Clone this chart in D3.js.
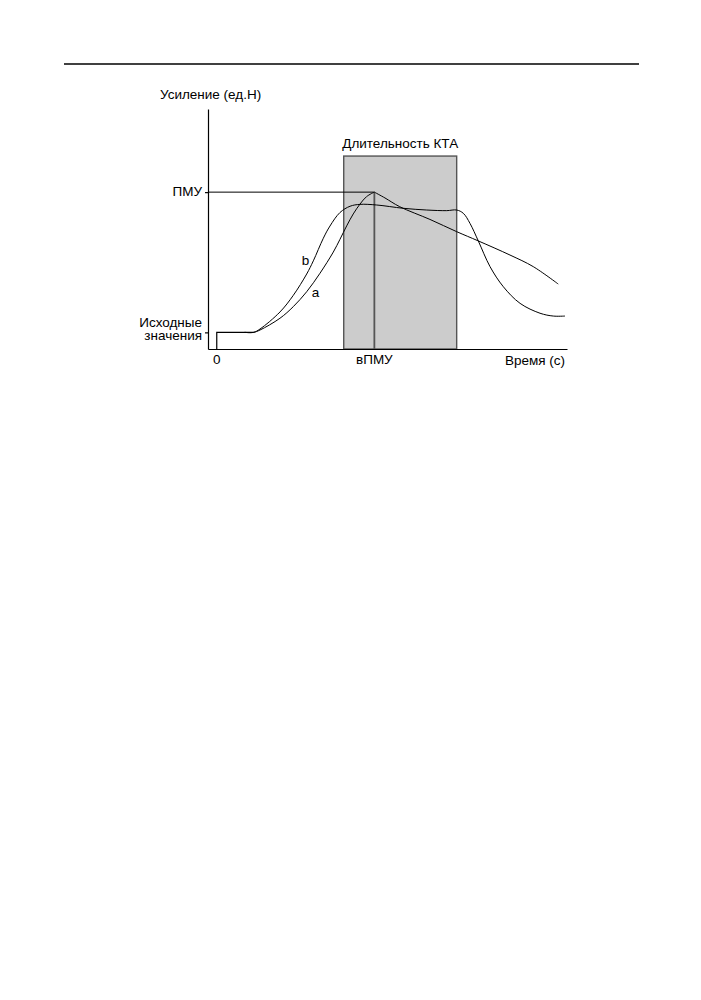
<!DOCTYPE html>
<html>
<head>
<meta charset="utf-8">
<script src="https://cdn.jsdelivr.net/npm/d3@7"></script>
<style>
  body { margin: 0; background: #fff; }
  text { font-family: "Liberation Sans", Arial, sans-serif; font-size: 13.5px; fill: #000; }
</style>
</head>
<body>
<div id="chart"></div>
<script>
// values (time in arbitrary units, gain in % of ПМУ)
const baselineGain = 10.6;
const divergeTime = 4.2;
const pmuGain = 100;
const pmuTime = 18;
const ktaSpan = [14.5, 27.4];
const ktaTop = 123;

// curve a: rises to a sharp peak at ПМУ, then falls slowly
const curveARise = [
  [3.2, 10.6], [4.2, 10.6], [4.94, 12.1], [7.22, 19.6], [8.74, 27.0], [10.27, 36.5],
  [11.79, 48.3], [13.31, 61.8], [14.07, 69.9], [14.84, 78.5], [15.59, 86.1],
  [16.36, 92.4], [17.12, 97.2], [18, 100]
];
const curveAFall = [
  [18, 100], [19.21, 96.3], [20.9, 90.7], [24.35, 82.6], [27.4, 74.8],
  [29.87, 68.9], [33.49, 59.9], [36.15, 52.5], [39.0, 41.4]
];
// curve b: rises earlier, plateau over КТА, then drops
const curveB = [
  [3.2, 10.6], [4.2, 10.6], [4.94, 12.75], [7.22, 23.6], [8.74, 34.2], [10.27, 47.8],
  [11.03, 56.2], [12.17, 70.6], [12.93, 78.4], [14.07, 87.0], [15.22, 91.0],
  [16.36, 92.2], [18.27, 91.8], [21.3, 89.7], [23.98, 88.6], [26.26, 88.2],
  [27.4, 88.6], [28.16, 86.5], [28.92, 80.1], [29.87, 68.9], [31.21, 52.5],
  [32.73, 39.7], [34.64, 29.1], [36.92, 22.8], [38.44, 21.0], [39.77, 21.0]
];
const baseStep = [[0, 0], [0, baselineGain], [divergeTime, baselineGain]];

const yLabels = [
  { v: pmuGain, lines: ["ПМУ"] },
  { v: baselineGain, lines: ["Исходные", "значения"] }
];
const xLabels = [
  { t: 0, text: "0" },
  { t: pmuTime, text: "вПМУ" }
];
const curveLabels = [
  { t: 10.13, v: 53.6, text: "b" },
  { t: 11.28, v: 33.0, text: "a" }
];

const width = 701, height = 1000;
const svg = d3.select('#chart').append('svg')
  .attr('width', width).attr('height', height);

// page rule at the top
svg.append('line')
  .attr('x1', 64).attr('x2', 639).attr('y1', 64).attr('y2', 64)
  .attr('stroke', '#000').attr('stroke-width', 1.3);

const x = d3.scaleLinear().domain([-1, 40]).range([208, 567]);
const y = d3.scaleLinear().domain([0, 153]).range([349, 109]);

// КТА box
svg.append('rect')
  .attr('x', x(ktaSpan[0])).attr('y', y(ktaTop))
  .attr('width', x(ktaSpan[1]) - x(ktaSpan[0]))
  .attr('height', y(0) - y(ktaTop))
  .attr('fill', '#cccccc').attr('stroke', '#555').attr('stroke-width', 1.4);

svg.append('text')
  .attr('x', (x(ktaSpan[0]) + x(ktaSpan[1])) / 2).attr('y', y(ktaTop) - 8)
  .attr('text-anchor', 'middle')
  .text('Длительность КТА');

// ПМУ guides
svg.append('line')
  .attr('x1', x(-1)).attr('x2', x(pmuTime))
  .attr('y1', y(pmuGain)).attr('y2', y(pmuGain))
  .attr('stroke', '#000').attr('stroke-width', 1);
svg.append('line')
  .attr('x1', x(pmuTime)).attr('x2', x(pmuTime))
  .attr('y1', y(pmuGain)).attr('y2', y(0))
  .attr('stroke', '#555').attr('stroke-width', 1.8);

// axes
svg.append('g')
  .attr('transform', `translate(${x(-1)},0)`)
  .call(d3.axisLeft(y).tickValues([baselineGain, pmuGain]).tickSize(3).tickSizeOuter(0).tickFormat(''));
svg.append('g')
  .attr('transform', `translate(0,${y(0)})`)
  .call(d3.axisBottom(x).tickValues([]).tickSizeOuter(0));
svg.selectAll('.domain, .tick line').attr('stroke', '#000').attr('stroke-width', 1.2);

// curves
const line = d3.line().x(d => x(d[0])).y(d => y(d[1])).curve(d3.curveCatmullRom.alpha(0.5));
const lineStraight = d3.line().x(d => x(d[0])).y(d => y(d[1]));

svg.append('path').attr('d', lineStraight(baseStep))
  .attr('fill', 'none').attr('stroke', '#000').attr('stroke-width', 1.2);
[curveARise, curveAFall, curveB].forEach(c => {
  svg.append('path').attr('d', line(c))
    .attr('fill', 'none').attr('stroke', '#000').attr('stroke-width', 1);
});

// labels
svg.append('text').attr('x', 160).attr('y', 99).text('Усиление (ед.Н)');

yLabels.forEach(l => {
  const n = l.lines.length;
  l.lines.forEach((s, i) => {
    svg.append('text')
      .attr('x', x(-1) - 6)
      .attr('y', n > 1 ? y(l.v) - 5 + i * 13 : y(l.v) + 4)
      .attr('text-anchor', 'end')
      .text(s);
  });
});

xLabels.forEach(l => {
  svg.append('text')
    .attr('x', x(l.t)).attr('y', y(0) + 15)
    .attr('text-anchor', 'middle')
    .text(l.text);
});
svg.append('text').attr('x', x(40) - 2).attr('y', y(0) + 16)
  .attr('text-anchor', 'end').text('Время (с)');

curveLabels.forEach(l => {
  svg.append('text')
    .attr('x', x(l.t)).attr('y', y(l.v))
    .attr('text-anchor', 'middle')
    .text(l.text);
});
</script>
</body>
</html>
